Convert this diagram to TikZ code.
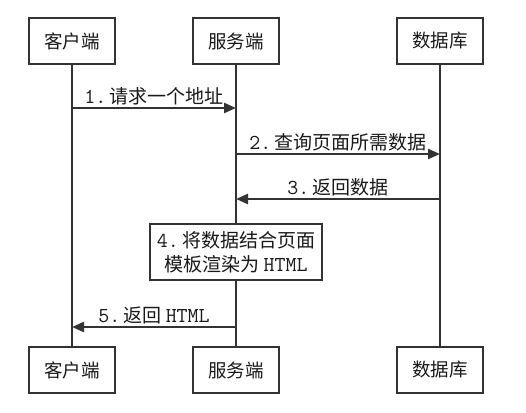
\documentclass[tikz,border=0pt]{standalone}
\usepackage{fontspec}
\setmainfont{Noto Sans CJK SC}
\setmonofont[Scale=1.12]{Latin Modern Mono}
\usepackage{tikz}
\usetikzlibrary{arrows.meta,positioning}
\definecolor{lineGray}{HTML}{333333}
\newcommand{\en}[1]{{\ttfamily #1}}
\tikzset{
  roleBox/.style={
    rectangle,
    draw=lineGray,
    line width=2.8pt,
    fill=white,
    minimum width=86pt,
    minimum height=46pt,
    inner sep=0pt,
    text=black!90,
    font=\fontsize{18.5}{20}\selectfont
  },
  stepBox/.style={
    rectangle,
    draw=lineGray,
    line width=2.8pt,
    fill=white,
    minimum width=172pt,
    minimum height=56pt,
    inner sep=0pt,
    align=center,
    text=black!90,
    font=\fontsize{19}{24}\selectfont
  },
  lifeLine/.style={
    draw=lineGray,
    line width=2.3pt
  },
  msgArrow/.style={
    -{Triangle[length=12pt,width=10pt]},
    draw=lineGray,
    line width=2.3pt
  },
  msgLabel/.style={
    above,
    inner sep=2pt,
    text=black!90,
    font=\fontsize{19}{20}\selectfont
  }
}
\begin{document}
\begin{tikzpicture}[x=1pt,y=-1pt]
    \useasboundingbox[fill=white] (0,0) rectangle (526,412);

    \node[roleBox] (client) at (72,41) {客户端};
    \node[roleBox] (server) at (236,41) {服务端};
    \node[roleBox] (db) at (440,41) {数据库};

    \node[roleBox] (clientEnd) at (72,370) {客户端};
    \node[roleBox] (serverEnd) at (236,370) {服务端};
    \node[roleBox] (dbEnd) at (440,370) {数据库};

    \node[stepBox] (render) at (236,252) {\en{4.}\,将数据结合页面\\模板渲染为 \en{HTML}};

    % lifelines
    \draw[lifeLine] (client) -- (clientEnd);
    \draw[lifeLine] (server) -- (render);
    \draw[lifeLine] (render) -- (serverEnd);
    \draw[lifeLine] (db) -- (dbEnd);

    % message end points
    \coordinate (reqFrom) at (72,108);
    \coordinate (reqTo) at (236,108);
    \coordinate (queryFrom) at (236,154);
    \coordinate (queryTo) at (440,154);
    \coordinate (dataFrom) at (440,199);
    \coordinate (dataTo) at (236,199);
    \coordinate (htmlFrom) at (236,327);
    \coordinate (htmlTo) at (72,327);

    \draw[msgArrow] (reqFrom) -- node[msgLabel]{\en{1.}\,请求一个地址} (reqTo);
    \draw[msgArrow] (queryFrom) -- node[msgLabel]{\en{2.}\,查询页面所需数据} (queryTo);
    \draw[msgArrow] (dataFrom) -- node[msgLabel]{\en{3.}\,返回数据} (dataTo);
    \draw[msgArrow] (htmlFrom) -- node[msgLabel]{\en{5.}\,返回 \en{HTML}} (htmlTo);

\end{tikzpicture}
\end{document}
